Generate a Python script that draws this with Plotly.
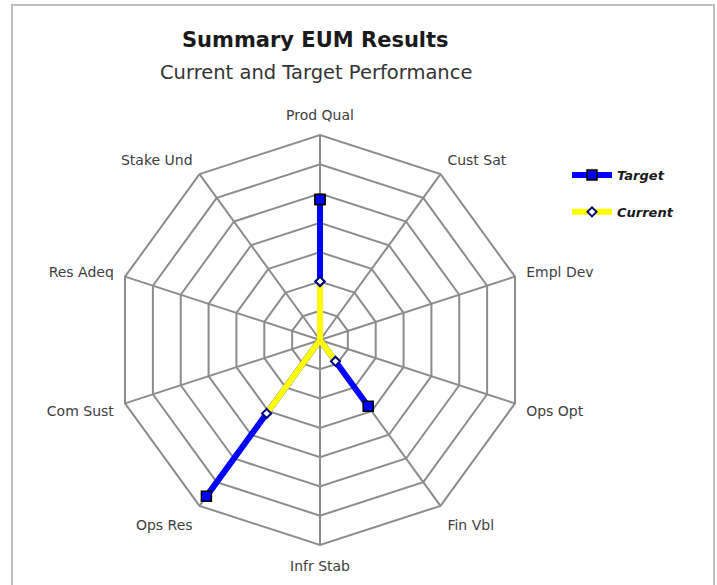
import plotly.graph_objects as go

categories = ["Prod Qual", "Cust Sat", "Empl Dev", "Ops Opt", "Fin Vbl",
              "Infr Stab", "Ops Res", "Com Sust", "Res Adeq", "Stake Und"]
target = [4.8, 0, 0, 0, 2.8, 0, 6.6, 0, 0, 0]
current = [2.0, 0, 0, 0, 0.9, 0, 3.1, 0, 0, 0]
radial_max = 7

W, H = 717, 585
cx, cy, R = 320, 340, 205

theta = categories + categories[:1]
t_vals = target + target[:1]
c_vals = current + current[:1]
clear = "rgba(0,0,0,0)"
t_fill = ["#0000FF" if v > 0 else clear for v in t_vals]
t_edge = ["#000000" if v > 0 else clear for v in t_vals]

fig = go.Figure()
fig.add_trace(go.Scatterpolar(
    r=t_vals, theta=theta, name="Target", mode="lines+markers",
    line=dict(color="#0000FF", width=6),
    marker=dict(symbol="square", size=10, color=t_fill,
                line=dict(color=t_edge, width=1.5)),
    legendgroup="a",
))
fig.add_trace(go.Scatterpolar(
    r=c_vals, theta=theta, name="Current", mode="lines+markers",
    line=dict(color="#FFFF00", width=6),
    marker=dict(symbol="diamond", size=7, color="#FFFFFF",
                line=dict(color="#000080", width=2)),
    legendgroup="b",
))

grid = "#8c8c8c"
fig.update_layout(
    width=W, height=H,
    margin=dict(l=0, r=0, t=0, b=0),
    paper_bgcolor="white",
    font=dict(family="DejaVu Sans", color="#404040"),
    polar=dict(
        domain=dict(x=[(cx - R) / W, (cx + R) / W],
                    y=[1 - (cy + R) / H, 1 - (cy - R) / H]),
        bgcolor="white",
        gridshape="linear",
        radialaxis=dict(range=[0, radial_max], dtick=1, showticklabels=False,
                        ticks="", showline=False, gridcolor=grid, gridwidth=2),
        angularaxis=dict(direction="clockwise", rotation=90,
                         ticks="outside", ticklen=8, tickcolor="rgba(0,0,0,0)",
                         showline=True, linecolor=grid, linewidth=2,
                         gridcolor=grid, gridwidth=2,
                         tickfont=dict(size=14, color="#404040")),
    ),
    showlegend=True,
    legend=dict(x=567 / W, y=1 - 160 / H, xanchor="left", yanchor="top",
                traceorder="grouped", tracegroupgap=17, itemwidth=40,
                font=dict(size=13, color="#1a1a1a", weight="bold", style="italic"),
                bgcolor="rgba(0,0,0,0)"),
    annotations=[
        dict(text="<b>Summary EUM Results</b>", x=315 / W, y=1 - 40 / H,
             xref="paper", yref="paper", showarrow=False,
             xanchor="center", yanchor="middle",
             font=dict(size=21, color="#1a1a1a")),
        dict(text="Current and Target Performance", x=316 / W, y=1 - 72 / H,
             xref="paper", yref="paper", showarrow=False,
             xanchor="center", yanchor="middle",
             font=dict(size=19.5, color="#333333")),
    ],
    shapes=[dict(type="rect", xref="paper", yref="paper",
                 x0=12 / W, x1=714 / W, y0=-0.05, y1=1 - 5 / H,
                 line=dict(color="#bfbfbf", width=2))],
)

fig.write_html("out.html", config={"displayModeBar": False},
               post_script="document.body.style.margin='0';")
